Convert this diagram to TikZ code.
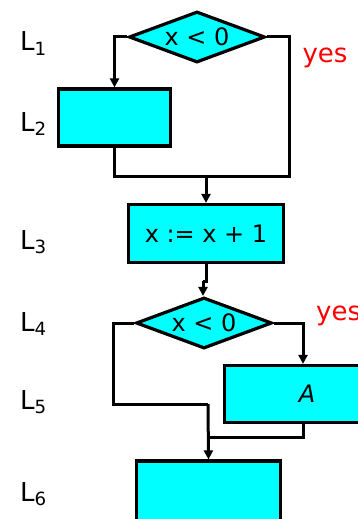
\documentclass[tikz,border=0pt]{standalone}
\usepackage{fontspec}
\setmainfont{DejaVu Sans}
\usetikzlibrary{shapes.geometric,arrows.meta}
\definecolor{boxcyan}{RGB}{0,255,255}
\begin{document}
\begin{tikzpicture}[x=1pt,y=-1pt,
 flow/.style={draw=black, line width=3.2pt, fill=boxcyan, font=\fontsize{24}{24}\selectfont},
 boxnode/.style={flow, rectangle, inner sep=0pt},
 decision/.style={flow, diamond, shape aspect=2.6, inner sep=0pt, minimum width=136pt, minimum height=51pt},
 conn/.style={line width=3pt, line join=miter},
 arr/.style={conn, -{Triangle[length=9pt,width=9pt]}},
 lbl/.style={font=\fontsize{26}{26}\selectfont, anchor=base west, inner sep=0pt},
 yeslbl/.style={text=red, font=\fontsize{26}{26}\selectfont, inner sep=0pt}]
\useasboundingbox (0,0) rectangle (358,519);
% nodes
\node[decision] (d1) at (197,37) {x < 0};
\node[boxnode, minimum width=112pt, minimum height=57pt] (b2) at (114.5,117.5) {};
\node[boxnode, minimum width=155pt, minimum height=58pt] (b3) at (206,233.5) {x := x + 1};
\node[decision] (d2) at (204,323) {x < 0};
\node[boxnode, minimum width=157pt, minimum height=57pt] (bA) at (303,394) {\hspace{8pt}\textit{A}};
\node[boxnode, minimum width=144pt, minimum height=80pt] (b6) at (208.5,501) {};
% labels
\node[lbl] (l1) at (20,51) {L\textsubscript{1}};
\node[lbl] (l2) at (20,131) {L\textsubscript{2}};
\node[lbl] (l3) at (20,249) {L\textsubscript{3}};
\node[lbl] (l4) at (20,331) {L\textsubscript{4}};
\node[lbl] (l5) at (20,409) {L\textsubscript{5}};
\node[lbl] (l6) at (20,501) {L\textsubscript{6}};
\node[yeslbl] (y1) at (325,58) {yes};
\node[yeslbl, anchor=west] (y2) at (316,316) {yes};
% helper coordinates
\coordinate (r1) at (289,176);
\coordinate (m1) at (206,176);
\coordinate (j1) at (206,281);
\coordinate (j2) at (203,281);
\coordinate (l2c) at (113,404);
\coordinate (m2) at (208,404);
\coordinate (m3) at (208,437);
% connectors
\draw[arr] (d1.west) -| (b2.north);
\draw[conn] (d1.east) -| (r1) -- (m1);
\draw[conn] (b2.south) |- (m1);
\draw[arr] (m1) -- (b3.north);
\draw[conn] (b3.south) -- (j1) -- (j2);
\draw[arr] (j2) -- (d2.north -| j2);
\draw[conn] (d2.west) -| (l2c) -- (m2);
\draw[arr] (m2) -- (b6.north);
\draw[arr] (d2.east) -| (bA.north);
\draw[conn] (bA.south) |- (m3);
\end{tikzpicture}
\end{document}
